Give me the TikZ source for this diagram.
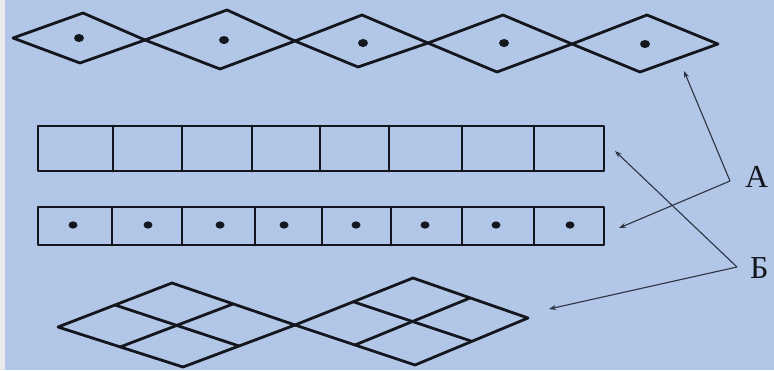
\documentclass[tikz,border=0pt]{standalone}
\usepackage{fontspec}
\setmainfont{Liberation Serif}
\usetikzlibrary{arrows.meta}
\definecolor{bgblue}{RGB}{178,199,231}
\definecolor{stripgrey}{RGB}{234,234,236}
\definecolor{ink}{RGB}{20,22,30}
\definecolor{thinink}{RGB}{45,50,65}
\tikzset{
  shapeline/.style={draw=ink, line width=2.8pt, line join=round, line cap=round},
  dotmark/.style={fill=ink, draw=none},
  pointer/.style={draw=thinink, line width=1.1pt, -{Stealth[length=7pt,width=5pt]}},
  lbl/.style={font=\fontsize{32}{34}\selectfont, text=ink, inner sep=0pt, anchor=base west}
}
\begin{document}
\begin{tikzpicture}[x=1pt,y=-1pt]
\useasboundingbox (0,0) rectangle (774,370);
\clip (0,0) rectangle (774,370);
\fill[bgblue] (0,0) rectangle (774,370);
\fill[stripgrey] (0,0) rectangle (5,370);

% top row of diamonds
\draw[shapeline] (13,38) -- (83,13) -- (145,40) -- (80,63) -- cycle;
\draw[shapeline] (145,40) -- (227,10) -- (295,41) -- (220,69) -- cycle;
\draw[shapeline] (295,41) -- (362,15) -- (428,43) -- (358,67) -- cycle;
\draw[shapeline] (428,43) -- (503,15) -- (572,44) -- (497,72) -- cycle;
\draw[shapeline] (572,44) -- (647,15) -- (718,44) -- (640,72) -- cycle;
\foreach \x/\y in {79/38,224/40,363/43,504/43,645/44}
  \fill[dotmark] (\x,\y) ellipse (5pt and 4pt);

% row of empty squares
\draw[shapeline] (38,126) rectangle (604,171);
\foreach \x in {113,182,252,320,389,462,534}
  \draw[shapeline] (\x,126) -- (\x,171);

% row of squares with dots
\draw[shapeline] (38,207) rectangle (604,245);
\foreach \x in {112,182,255,322,391,462,534}
  \draw[shapeline] (\x,207) -- (\x,245);
\foreach \x in {73,148,220,284,356,425,496,570}
  \fill[dotmark] (\x,225) ellipse (4.5pt and 3.6pt);

% bottom subdivided rhombi
\draw[shapeline] (58,327) -- (172,283) -- (295,325) -- (183,367) -- cycle;
\draw[shapeline] (115,305) -- (239,346);
\draw[shapeline] (120,347) -- (233,304);
\draw[shapeline] (295,325) -- (413,278) -- (528,318) -- (415,365) -- cycle;
\draw[shapeline] (354,302) -- (471,341);
\draw[shapeline] (355,345) -- (470,298);

% labels and pointers
\node[lbl] (labA) at (745,187) {А};
\node[lbl] (labB) at (750,278) {Б};
\coordinate (cA) at (730,181);
\coordinate (cB) at (737,267);
\coordinate (tA1) at (684,71);
\coordinate (tA2) at (619,228);
\coordinate (tB1) at (615,151);
\coordinate (tB2) at (549,309);
\draw[pointer] (cA) -- (tA1);
\draw[pointer] (cA) -- (tA2);
\draw[pointer] (cB) -- (tB1);
\draw[pointer] (cB) -- (tB2);
\end{tikzpicture}
\end{document}
